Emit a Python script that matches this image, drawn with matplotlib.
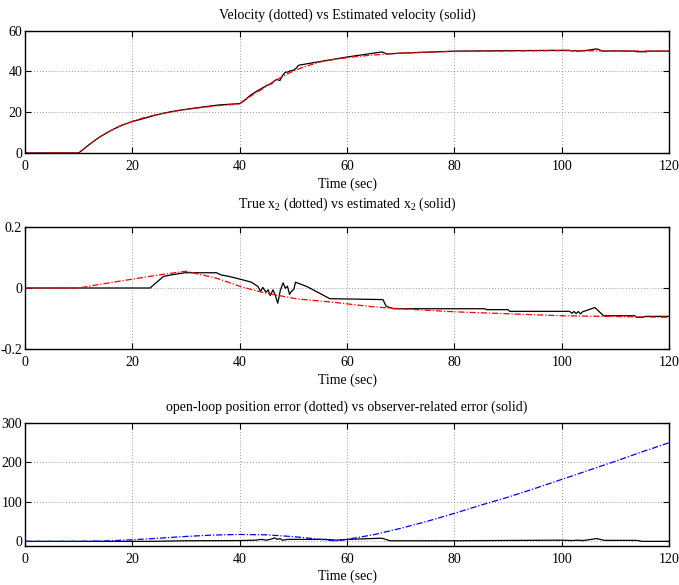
import matplotlib
matplotlib.use("Agg")
import matplotlib.pyplot as plt

plt.rcParams['font.family'] = ['Liberation Serif', 'DejaVu Serif']
plt.rcParams['mathtext.fontset'] = 'custom'
plt.rcParams['mathtext.rm'] = 'Liberation Serif'
plt.rcParams['mathtext.it'] = 'Liberation Serif:italic'

# ---- velocity: true (dotted) and estimated (solid) ----
vel_true_t = [0, 10, 12, 14, 16, 18, 20, 22, 24, 26, 28, 30, 33, 36, 40, 42, 44, 46, 48,
              50, 52, 55, 58, 61, 64, 67, 70, 75, 80, 90, 100, 110, 120]
vel_true = [0, 0, 4.2, 8, 11, 13.5, 15.5, 17.2, 18.5, 19.5, 20.5, 21.3, 22.3, 23.2, 24,
            27.8, 31, 34.5, 37.5, 40.2, 42.2, 44.6, 46, 47, 47.8, 48.4, 48.9, 49.4, 49.7,
            50, 50.1, 50, 49.9]
vel_est_t = [0, 10, 12, 14, 16, 18, 20, 22, 24, 26, 28, 30, 33, 36, 40, 41, 42, 43, 44, 45,
             46, 46.5, 47, 47.5, 48, 48.5, 49, 49.5, 50, 50.5, 51, 55, 60, 66.5, 67.5, 70,
             80, 90, 100, 101.5, 102, 102.5, 103, 103.5, 104, 105, 106.5, 107.7, 110, 113.5,
             114, 115.8, 116.3, 120]
vel_est = [0, 0, 4.2, 8, 11, 13.6, 15.4, 16.8, 18.3, 19.6, 20.6, 21.4, 22.5, 23.5, 24.2, 26,
           28.3, 30, 31.5, 33, 34, 35.5, 36, 35.5, 38, 39.5, 39.7, 40.3, 40.5, 41.5, 43,
           44.8, 47, 49.5, 48.5, 48.9, 49.9, 50.1, 50.3, 50.3, 49.9, 50.2, 49.8, 50.1, 50.0,
           50.4, 51, 49.9, 50, 49.9, 49.6, 49.6, 49.9, 49.9]

# ---- x2: true (dotted) and estimated (solid) ----
x2_true_t = [0, 10, 15, 20, 25, 30, 35.7, 40.3, 44.6, 50.8, 57, 64.5, 68, 80, 100, 120]
x2_true = [0, 0, 0.015, 0.029, 0.043, 0.055, 0.032, 0.004, -0.016, -0.036, -0.046,
           -0.061, -0.066, -0.078, -0.091, -0.096]
x2_est_t = [0, 23.3, 25.8, 27.6, 29.8, 35.7, 36.5, 38, 40.3, 42.2, 43.4, 43.9, 44.3, 44.9,
            45.3, 45.7, 46.2, 46.6, 47.1, 47.6, 48.1, 48.5, 48.9, 49.3, 49.6, 50.1, 50.4,
            52.5, 56.8, 66.7, 67.3, 68.6, 85.7, 86, 90, 90.3, 101.5, 101.9, 102.3, 102.7,
            103.1, 103.5, 103.9, 104.9, 106.2, 107.8, 113.6, 114, 115.2, 115.6, 120]
x2_est = [0, 0, 0.038, 0.044, 0.05, 0.05, 0.043, 0.038, 0.028, 0.019, 0.005, -0.011, 0.002,
          -0.014, -0.006, -0.025, -0.006, -0.022, -0.05, -0.006, 0.017, -0.001, 0.006,
          -0.021, -0.012, -0.004, 0.019, 0.005, -0.035, -0.038, -0.06, -0.068, -0.068,
          -0.071, -0.071, -0.0765, -0.0765, -0.083, -0.077, -0.084, -0.077, -0.085, -0.078,
          -0.072, -0.064, -0.091, -0.091, -0.096, -0.096, -0.093, -0.093]

# ---- position errors: open-loop (dotted) and observer-related (solid) ----
pos_ol_t = [0, 10, 15, 20, 25, 30, 35, 40, 45, 50, 55, 58, 60, 65, 70, 75, 80, 85, 90, 95,
            100, 105, 110, 115, 120]
pos_ol = [0, 0, 1, 4, 8, 12.5, 16, 17.5, 16.5, 12, 5, 1, 5, 17, 33, 51, 71, 92, 112, 134,
          157, 180, 203, 227, 250]
pos_obs_t = [0, 23, 30, 40, 43, 44, 45, 46, 46.5, 47, 47.5, 48, 49, 50, 56, 58, 60, 66.5,
             68, 80, 100, 102, 103, 104, 106.5, 108, 114, 115, 120]
pos_obs = [0, 0, 1.5, 2, 3, 5, 3, 6, 9, 5, 7, 3, 5, 5, 5, 3, 5, 8, 1.5, 1.5, 3, 2, 3, 2, 7,
           2.5, 2.5, 0, 0]

time_ticks = [0, 20, 40, 60, 80, 100, 120]

fig = plt.figure(figsize=(6.79, 5.85), dpi=100)
W, H = 679.0, 585.0
FS = 10

def make_axes(top_px, bottom_px):
    return fig.add_axes([25 / W, 1 - bottom_px / H, 644 / W, (bottom_px - top_px) / H])

dash_dot = (0, (5, 1.5, 1, 1.5))

def style(ax, yticks, ylim, ylabels):
    ax.set_xlim(0, 120)
    ax.set_ylim(*ylim)
    ax.set_xticks(time_ticks)
    ax.set_yticks(yticks)
    ax.set_yticklabels(ylabels)
    ax.tick_params(axis='both', direction='in', top=True, right=True, length=4, width=0.8,
                   labelsize=FS)
    ax.tick_params(axis='x', pad=5)
    ax.tick_params(axis='y', pad=2)
    ax.grid(True, color='0.45', linestyle=(0, (1, 2.5)), linewidth=0.6)
    for s in ax.spines.values():
        s.set_linewidth(1.0)
    ax.set_xlabel('Time (sec)', fontsize=FS, labelpad=3)

ax1 = make_axes(30.5, 153)
ax1.plot(vel_est_t, vel_est, color='black', lw=0.9)
ax1.plot(vel_true_t, vel_true, color='red', lw=0.9, linestyle=dash_dot)
style(ax1, [0, 20, 40, 60], (0, 60), ['0', '20', '40', '60'])
ax1.set_title('Velocity (dotted) vs Estimated velocity (solid)', fontsize=FS, pad=8.5)

ax2 = make_axes(227, 349)
ax2.plot(x2_est_t, x2_est, color='black', lw=0.9)
ax2.plot(x2_true_t, x2_true, color='red', lw=0.9, linestyle=dash_dot)
style(ax2, [-0.2, 0, 0.2], (-0.2, 0.2), ['-0.2', '0', '0.2'])
ax2.set_title('True x$_{2}$ (dotted) vs estimated x$_{2}$ (solid)', fontsize=FS, pad=14)

ax3 = make_axes(423, 545.7)
ax3.plot(pos_obs_t, pos_obs, color='black', lw=0.9)
ax3.plot(pos_ol_t, pos_ol, color='blue', lw=0.9, linestyle=dash_dot)
style(ax3, [0, 100, 200, 300], (-11, 300), ['0', '100', '200', '300'])
ax3.set_title('open-loop position error (dotted) vs observer-related error (solid)',
              fontsize=FS, pad=8.5)

fig.savefig('out.png', dpi=100)
